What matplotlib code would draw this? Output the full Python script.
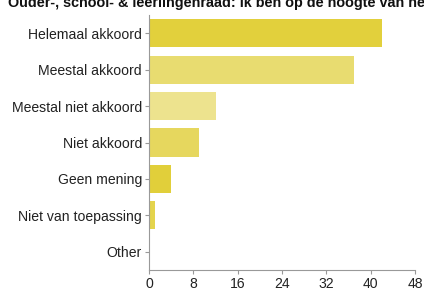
import matplotlib
matplotlib.use("Agg")
import matplotlib.pyplot as plt

categories = ["Helemaal akkoord", "Meestal akkoord", "Meestal niet akkoord",
              "Niet akkoord", "Geen mening", "Niet van toepassing", "Other"]
values = [42, 37, 12, 9, 4, 1, 0]
colors = ["#e2d03c", "#e8dc70", "#ede38e", "#e6d75e", "#e1cf3a", "#e4d44c", "#e4d44c"]
xticks = [0, 8, 16, 24, 32, 40, 48]
title = "Ouder-, school- & leerlingenraad: Ik ben op de hoogte van het"

plt.rcParams['font.family'] = ['Liberation Sans', 'DejaVu Sans']
fig = plt.figure(figsize=(4.24, 2.91), dpi=100)
ax = fig.add_axes([149/424, 1-270/291, (415-149)/424, (270-15)/291])
ypos = list(range(len(categories)))
ax.barh(ypos, values, height=0.77, color=colors)
ax.set_ylim(len(categories)-0.5, -0.5)
ax.set_xlim(0, 48)
ax.set_yticks(ypos)
ax.set_yticklabels(categories, fontsize=10.1, color="#222222")
ax.set_xticks(xticks)
ax.set_xticklabels([str(t) for t in xticks], fontsize=10.1, color="#222222")
for s in ["top", "right"]:
    ax.spines[s].set_visible(False)
for s in ["left", "bottom"]:
    ax.spines[s].set_color("#999999")
    ax.spines[s].set_linewidth(0.8)
ax.tick_params(axis="both", length=3, color="#999999", width=0.8, pad=2)
fig.text(8/424, 1-7/291, title, fontsize=10.4, fontweight="bold", va="baseline", ha="left", color="#111111")
fig.savefig("out.png", dpi=100)
